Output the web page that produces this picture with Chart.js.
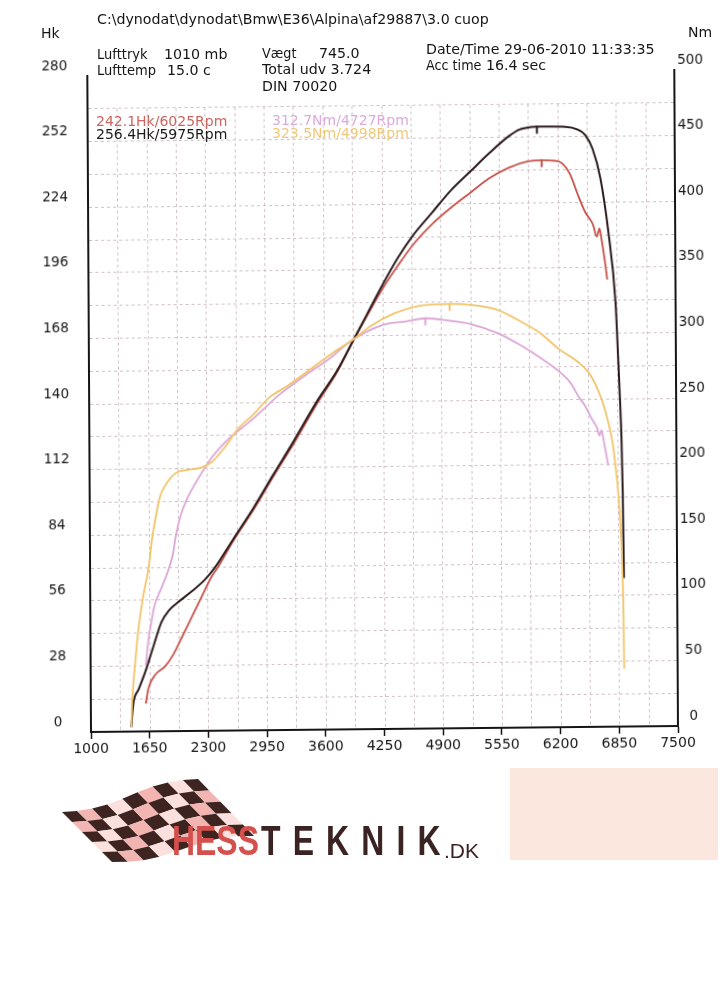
<!DOCTYPE html>
<html><head><meta charset="utf-8">
<script src="https://cdn.jsdelivr.net/npm/chart.js"></script>
<style>
html,body{margin:0;padding:0;background:#fff;}
body{width:728px;height:1001px;position:relative;overflow:hidden;font-family:"DejaVu Sans",sans-serif;color:#151515;}
#wrap{position:absolute;left:0;top:0;width:728px;height:1001px;transform-origin:91px 732px;transform:matrix(1,-0.0102,0.0056,1,0,0);}
canvas{display:block;}
.t{position:absolute;white-space:pre;font-size:14.2px;line-height:1;transform-origin:0 0;}
.lg{position:absolute;white-space:pre;font-size:14px;line-height:1;}
#flag{position:absolute;left:0;top:0;}
.logo{position:absolute;white-space:pre;font-family:"Liberation Sans",Arial,sans-serif;font-weight:bold;line-height:1;transform-origin:0 0;}
</style></head>
<body>
<div id="wrap"><canvas id="c" width="728" height="1001" style="width:728px;height:1001px"></canvas></div>

<div class="t" style="left:97px;top:12px">C:\dynodat\dynodat\Bmw\E36\Alpina\af29887\3.0 cuop</div>
<div class="t" style="left:41px;top:26px;font-size:14px">Hk</div>
<div class="t" style="left:688px;top:25px;font-size:14px">Nm</div>
<div class="t" style="left:97px;top:47px;transform:scaleX(0.92)">Lufttryk</div>
<div class="t" style="left:164px;top:47px">1010 mb</div>
<div class="t" style="left:97px;top:63px;transform:scaleX(0.92)">Lufttemp</div>
<div class="t" style="left:167px;top:63px">15.0 c</div>
<div class="t" style="left:262px;top:46px;transform:scaleX(0.9)">Vægt</div>
<div class="t" style="left:319px;top:46px">745.0</div>
<div class="t" style="left:262px;top:62px">Total udv 3.724</div>
<div class="t" style="left:262px;top:79px">DIN 70020</div>
<div class="t" style="left:426px;top:42px">Date/Time 29-06-2010 11:33:35</div>
<div class="t" style="left:426px;top:58px;transform:scaleX(0.9)">Acc time</div>
<div class="t" style="left:486px;top:58px">16.4 sec</div>

<div id="legend"></div>

<svg id="flag" width="728" height="1001"></svg>
<div class="logo" style="left:172px;top:820px;font-size:42px;color:#d5504c;transform:scaleX(0.76)">HESS</div>
<div class="logo" style="left:261px;top:820px;font-size:42px;color:#3a2322;letter-spacing:16px;transform:scaleX(0.76)">TEKNIK</div>
<div class="logo" style="left:444px;top:840px;font-size:21px;color:#3a2322;font-weight:normal">.DK</div>
<div style="position:absolute;left:510px;top:768px;width:208px;height:92px;background:#fce7de"></div>

<script>
// ---- data read from the dyno sheet ----
const xTicksMin = 1000, xTicksMax = 7500;
const hkMax = 280, nmMax = 500, gridTopHk = 266;

// Run 1 power (red) – Hk
const redRpm = [1609,1638,1712,1823,1915,2008,2119,2230,2340,2414,2597,2816,3034,3240,3537,3749,3918,4088,4258,4427,4597,4809,5021,5233,5445,5657,5869,6025,6166,6251,6335,6420,6505,6590,6632,6662,6683,6717,6745];
const redHk  = [11.9,18.3,24.0,27.6,32.6,39.7,48.3,56.9,65.4,69.7,81.5,94.3,108.2,120.8,140.0,152.6,165.0,176.8,188.0,197.7,206.6,215.3,222.3,228.5,234.6,239.0,241.6,242.1,241.8,240.7,236.3,227.6,219.7,214.4,209.2,212.7,208.3,199.5,190.8];

// Run 2 power (black) – Hk
const blackRpm = [1447,1460,1473,1530,1602,1687,1787,1870,1953,2119,2267,2378,2597,2816,3034,3240,3537,3749,3918,4088,4258,4427,4597,4809,5021,5233,5445,5657,5784,5911,5975,6081,6293,6420,6505,6590,6674,6759,6835,6860,6878,6893,6903,6908,6911];
const blackHk  = [1.9,8,12.6,18,25.1,35.1,46.6,51.5,54.4,59.4,64.4,69.4,82.3,95.1,109.0,121.8,141.0,153.2,165.3,177.5,189.7,201.0,210.6,220.2,229.7,237.5,245.3,252.3,255.3,256.3,256.4,256.4,256.2,255.1,252.8,246.7,234.3,211.5,181,158,140,122,100,80,63.4];

// Run 1 torque (pink) – Nm
const pinkRpm = [1611,1638,1675,1712,1786,1860,1915,1953,2008,2082,2174,2267,2340,2451,2562,2816,3113,3367,3664,3918,4258,4512,4727,5021,5233,5530,5784,5996,6208,6335,6419,6493,6567,6622,6650,6672,6698,6745];
const pinkNm  = [50,67.9,83,96,108.7,121.5,134,149.5,164.8,177.5,189,199.3,207,216,223.5,237.5,256,268.8,282.8,296.6,308,310.5,312.7,310.4,307.9,300.8,291.3,281.8,271,262,252,244.6,234.5,228,222,226,217,199];

// Run 2 torque (yellow) – Nm
const yelRpm = [1447,1455,1462,1491,1528,1583,1650,1687,1724,1779,1853,1964,2093,2241,2351,2500,2648,2816,2986,3198,3452,3707,3918,4130,4385,4639,4998,5233,5530,5784,5996,6208,6420,6530,6604,6678,6733,6789,6826,6860,6885,6898,6905,6908];
const yelNm  = [3,20,27.5,50.5,76,101.6,125.5,146,161,179,189,197,199,200.7,204.6,216,230,240.6,253,262.4,274.8,287.3,296.6,307.5,316.8,322,323.5,322.5,318.5,309.5,300.7,288,278,270.4,261.6,249,236,218.5,198,172,140,110,80,44];

// peak readouts (legend)
const peakRpm  = [6025, 5975, 4727, 4998];
const peakVal  = [242.1, 256.4, 312.7, 323.5];
const peakUnit = ['Hk', 'Hk', 'Nm', 'Nm'];
const peakAxis = ['y', 'y', 'y1', 'y1'];
const seriesColor = ['#c8524a', '#2a1a1c', '#dca6d8', '#f1c468'];
const legendColor = ['#cc6660', '#1a1a1a', '#dcaadc', '#f0c878'];

const FONT = '"DejaVu Sans", sans-serif';
const GRID = '#cfc1c5';

// legend labels (HTML text)
const legendPos = [[96,114],[96,127],[272,113],[272,126]];
const lg = document.getElementById('legend');
peakVal.forEach((v,i)=>{
  const d=document.createElement('div'); d.className='lg';
  d.style.left=legendPos[i][0]+'px'; d.style.top=legendPos[i][1]+'px'; d.style.color=legendColor[i];
  d.textContent = v.toFixed(1)+peakUnit[i]+'/'+peakRpm[i]+'Rpm';
  lg.appendChild(d);
});

const toXY = (xs, ys) => xs.map((x,i)=>({x:x, y:ys[i]}));

const dynoPlugin = {
  id:'dyno',
  beforeDatasetsDraw(chart){
    const {ctx, scales:{x, y}} = chart;
    const yTop = y.getPixelForValue(gridTopHk), yBot = y.getPixelForValue(0);
    ctx.save(); ctx.strokeStyle = GRID; ctx.lineWidth = 1; ctx.setLineDash([3,3]);
    x.ticks.forEach(t=>{
      if (t.value <= x.min || t.value >= x.max) return;
      const px = Math.round(x.getPixelForValue(t.value)) + 0.5;
      ctx.beginPath(); ctx.moveTo(px, yTop); ctx.lineTo(px, yBot); ctx.stroke();
    });
    ctx.restore();
  },
  afterDatasetsDraw(chart){
    const {ctx, scales} = chart;
    ctx.save(); ctx.lineWidth = 2;
    peakRpm.forEach((r,i)=>{
      const px = scales.x.getPixelForValue(r);
      const py = scales[peakAxis[i]].getPixelForValue(peakVal[i]);
      ctx.strokeStyle = seriesColor[i];
      ctx.beginPath(); ctx.moveTo(px, py - 1); ctx.lineTo(px, py + 7); ctx.stroke();
    });
    ctx.restore();
  }
};

const lineDs = (data, color, axis, w) => ({
  data, borderColor: color, backgroundColor: color, yAxisID: axis,
  borderWidth: w, pointRadius: 0, fill: false, cubicInterpolationMode: 'monotone'
});

new Chart(document.getElementById('c'), {
  type: 'line',
  data: { datasets: [
    lineDs(toXY(yelRpm, yelNm), seriesColor[3], 'y1', 1.8),
    lineDs(toXY(pinkRpm, pinkNm), seriesColor[2], 'y1', 1.8),
    lineDs(toXY(blackRpm, blackHk), seriesColor[1], 'y', 2),
    lineDs(toXY(redRpm, redHk), seriesColor[0], 'y', 1.8)
  ]},
  options: {
    responsive: false, animation: false, devicePixelRatio: 1,
    layout: { padding: { left: 0, right: 20, top: 76, bottom: 0 } },
    plugins: { legend: { display: false }, tooltip: { enabled: false } },
    scales: {
      x: {
        type: 'linear', min: xTicksMin, max: xTicksMax,
        ticks: { stepSize: 325, autoSkip: false, maxRotation: 0, padding: 2, color: '#151515',
          font: { family: FONT, size: 14 },
          callback: v => ((v - xTicksMin) % 650 === 0 ? String(v) : '') },
        grid: { display: true, drawOnChartArea: false, drawTicks: true, tickLength: 7, tickWidth: 1.5,
          tickColor: c => ((c.tick && (c.tick.value - xTicksMin) % 650 === 0) ? '#151515' : 'rgba(0,0,0,0)') },
        border: { display: true, color: '#151515', width: 2 },
        afterFit: s => { s.height = 1001 - 732; }
      },
      y: {
        position: 'left', min: 0, max: hkMax,
        ticks: { stepSize: 14, autoSkip: false, padding: 20, labelOffset: -10, crossAlign: 'center', color: '#151515',
          font: { family: FONT, size: 13.5 },
          callback: v => (v % 28 === 0 ? String(v) : '') },
        grid: { drawTicks: false, lineWidth: 1,
          color: c => ((c.tick && (c.tick.value === 0 || c.tick.value >= hkMax)) ? 'rgba(0,0,0,0)' : GRID) },
        border: { display: true, color: '#151515', width: 2, dash: [3,3] },
        afterFit: s => { s.width = 91; }
      },
      y1: {
        position: 'right', min: 0, max: nmMax,
        ticks: { stepSize: 50, autoSkip: false, padding: 3, labelOffset: -10, crossAlign: 'center', color: '#151515',
          font: { family: FONT, size: 13.5 } },
        grid: { display: false, drawTicks: false },
        border: { display: true, color: '#151515', width: 2 },
        afterFit: s => { s.width = 30; }
      }
    }
  },
  plugins: [dynoPlugin]
});

// decorative checkered flag of the logo
(function(){
  const NS = 'http://www.w3.org/2000/svg', svg = document.getElementById('flag');
  const TL=[62,812], TR=[198,779], BL=[112,862], BR=[254,836];
  const cols = 9, rows = 5;
  const pt = (u,v) => {
    const x = (1-u)*(1-v)*TL[0] + u*(1-v)*TR[0] + (1-u)*v*BL[0] + u*v*BR[0];
    const y = (1-u)*(1-v)*TL[1] + u*(1-v)*TR[1] + (1-u)*v*BL[1] + u*v*BR[1] + 4*Math.sin(u*Math.PI*2);
    return x.toFixed(1)+','+y.toFixed(1);
  };
  for (let i=0;i<cols;i++) for (let j=0;j<rows;j++){
    const p = document.createElementNS(NS,'polygon');
    const u0=i/cols,u1=(i+1)/cols,v0=j/rows,v1=(j+1)/rows;
    p.setAttribute('points',[pt(u0,v0),pt(u1,v0),pt(u1,v1),pt(u0,v1)].join(' '));
    p.setAttribute('fill', (i+j)%2===0 ? '#3d2421' : ((i+j)%4===1 ? '#f3b5b2' : '#fbe0de'));
    svg.appendChild(p);
  }
})();
</script>
</body></html>
